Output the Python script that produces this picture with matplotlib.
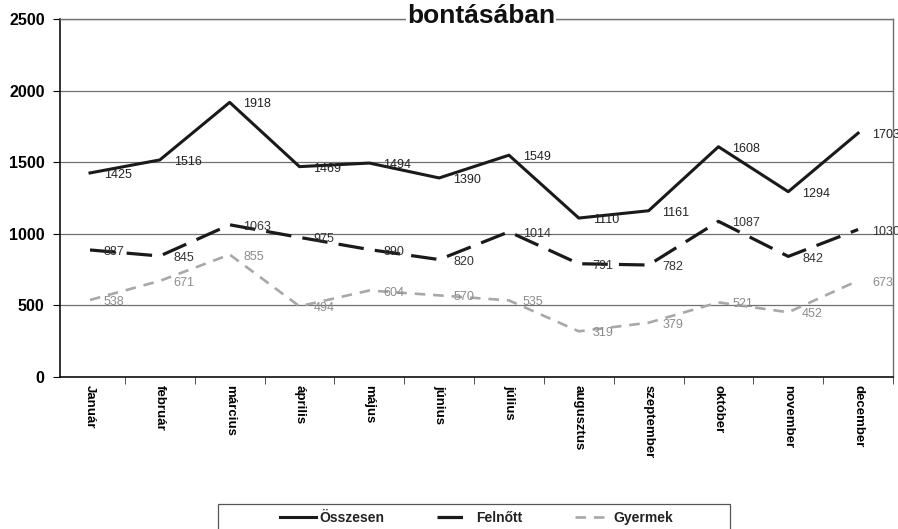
import matplotlib
matplotlib.use("Agg")
import matplotlib.pyplot as plt
from matplotlib.lines import Line2D
from matplotlib.patches import Rectangle
import numpy as np

plt.rcParams['font.family'] = ['Liberation Sans', 'DejaVu Sans']

months = ["Január", "február", "március", "április", "május", "június",
          "július", "augusztus", "szeptember", "október", "november", "december"]
osszesen = [1425, 1516, 1918, 1469, 1494, 1390, 1549, 1110, 1161, 1608, 1294, 1703]
felnott = [887, 845, 1063, 975, 890, 820, 1014, 791, 782, 1087, 842, 1030]
gyermek = [538, 671, 855, 494, 604, 570, 535, 319, 379, 521, 452, 673]
series_names = ["Összesen", "Felnőtt", "Gyermek"]
yticks = [0, 500, 1000, 1500, 2000, 2500]

fig = plt.figure(figsize=(8.98, 5.29), dpi=100)
ax = fig.add_axes([60/898, 1-377/529, (893-60)/898, (377-19)/529])

x = np.arange(len(months))
styles = [
    dict(color="#1a1a1a", lw=2.2, ls="-"),
    dict(color="#1a1a1a", lw=2.3, ls=(0, (8, 3.5))),
    dict(color="#a8a8a8", lw=1.9, ls=(0, (4, 3))),
]
label_colors = ["#222222", "#333333", "#8c8c8c"]
for vals, st, lc in zip([osszesen, felnott, gyermek], styles, label_colors):
    ax.plot(x, vals, **st, zorder=3)
    for xi, v in zip(x, vals):
        ax.annotate(str(v), (xi, v), xytext=(10, -1.5), textcoords="offset points",
                    ha="left", va="center", fontsize=9, color=lc, zorder=4)

ax.set_xlim(-0.43, 11.46)
ax.set_ylim(0, 2500)
ax.set_yticks(yticks)
ax.set_yticklabels([str(t) for t in yticks], fontsize=11.5, fontweight="bold")
ax.set_xticks(x)
ax.set_xticklabels(months, rotation=270, fontsize=9.5, fontweight="bold")
ax.tick_params(axis="x", which="major", length=0, pad=6)
ax.set_xticks(np.arange(-0.5, 12, 1)[1:], minor=True)
ax.tick_params(axis="x", which="minor", length=5, direction="out", color="#333333")
ax.tick_params(axis="y", length=5, direction="out", pad=6)
ax.grid(axis="y", color="#707070", lw=0.9)
ax.set_axisbelow(True)
for s in ["top", "right"]:
    ax.spines[s].set_color("#707070")
    ax.spines[s].set_linewidth(1.0)
ax.spines["left"].set_color("#111111")
ax.spines["bottom"].set_color("#111111")
ax.spines["left"].set_linewidth(1.2)
ax.spines["bottom"].set_linewidth(1.2)

fig.text(481/898, 1-23/529, "bontásában", ha="center", va="baseline",
         fontsize=19, fontweight="bold", color="#111111",
         bbox=dict(facecolor="white", edgecolor="none", pad=1))

# legend frame
fig.patches.append(Rectangle((218/898, -0.02), (730-218)/898, 0.02 + (529-504)/529,
                             transform=fig.transFigure, facecolor="white",
                             edgecolor="#555555", lw=0.9))
handles = [Line2D([], [], **st) for st in styles]
leg = fig.legend(handles, series_names, loc="center", ncol=3,
                 bbox_to_anchor=(477/898, 1-518/529), frameon=False,
                 fontsize=10, handlelength=2.6, handletextpad=0.2,
                 columnspacing=3.8, borderpad=0.2)
for t in leg.get_texts():
    t.set_fontweight("bold")
    t.set_color("#222222")

fig.savefig("out.png", dpi=100)
